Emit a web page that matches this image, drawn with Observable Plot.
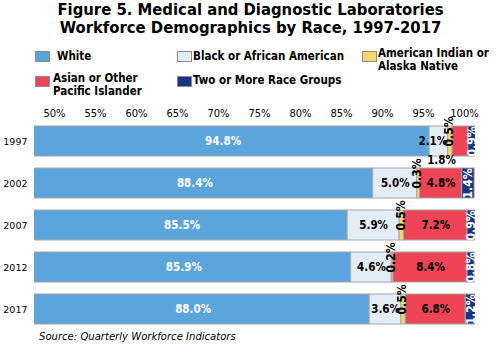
<!DOCTYPE html>
<html><head><meta charset="utf-8">
<script src="https://cdn.jsdelivr.net/npm/d3@7"></script>
<script src="https://cdn.jsdelivr.net/npm/@observablehq/plot@0.6"></script>
<style>
body{margin:0;background:#fff;}
#chart{position:relative;width:501px;height:346px;overflow:hidden;font-family:"DejaVu Sans Condensed","DejaVu Sans",Verdana,sans-serif;color:#000;}
#chart svg{position:absolute;left:0;top:0;}
.title{position:absolute;left:0;width:501px;text-align:center;font-weight:bold;font-size:16.5px;line-height:18px;top:1px;}
.lg{position:absolute;font-weight:bold;font-size:11.5px;line-height:13px;}
.sw{position:absolute;width:13px;height:9px;border:1px solid #8c8c8c;}
.src{position:absolute;left:39px;top:330px;font-style:italic;font-size:11.2px;line-height:13px;}
</style></head><body><div id="chart"></div>
<script>
const years = ["1997","2002","2007","2012","2017"];
const races = ["White","Black or African American","American Indian or Alaska Native","Asian or Other Pacific Islander","Two or More Race Groups"];
const white = [94.8,88.4,85.5,85.9,88.0];
const black = [2.1,5.0,5.9,4.6,3.6];
const amind = [0.5,0.3,0.5,0.2,0.5];
const asian = [1.8,4.8,7.2,8.4,6.8];
const multi = [0.9,1.4,0.9,0.8,1.2];
const colors = ["#5BA4DC","#E3EDF8","#F3D86C","#EF4356","#173580"];
const tickValues = [50,55,60,65,70,75,80,85,90,95,100];

const series = [white, black, amind, asian, multi];
const rows = [];
years.forEach((y, i) => {
  let acc = 0;
  series.forEach((s, k) => {
    const v = s[i];
    rows.push({year: y, race: races[k], k, value: v, x1: acc, x2: acc + v});
    acc += v;
  });
});
const lab = r => r.value.toFixed(1) + "%";
const font = '"DejaVu Sans Condensed","DejaVu Sans",Verdana,sans-serif';
const plainFont = '"DejaVu Sans",Verdana,sans-serif';

const chart = document.getElementById("chart");
const mid = r => (r.x1 + r.x2) / 2;

const main = Plot.plot({
  width: 501, height: 346,
  marginLeft: 34, marginRight: 26, marginTop: 120, marginBottom: 16,
  x: {domain: [50, 100], axis: null},
  y: {domain: years, paddingInner: 12/42, paddingOuter: 6/42, label: null},
  color: {domain: races, range: colors},
  style: {fontFamily: plainFont, fontSize: "9.5px", color: "#000", background: "transparent"},
  marks: [
    Plot.barX(rows, {x1: "x1", x2: "x2", y: "year", fill: "race", stroke: "#a6a6a6", strokeWidth: 1, clip: true}),
    Plot.axisY({tickSize: 0, tickPadding: 7, label: null, fontSize: 9.5}),
    // White labels
    Plot.text(rows.filter(r => r.k === 0), {x: r => (50 + r.x2) / 2, y: "year", text: lab, fill: "white", fontWeight: "bold", fontSize: 11.5, fontFamily: font, dx: -9}),
    // Black labels
    Plot.text(rows.filter(r => r.k === 1 && r.value >= 3), {x: mid, y: "year", text: lab, fill: "black", fontWeight: "bold", fontSize: 11.5, fontFamily: font}),
    Plot.text(rows.filter(r => r.k === 1 && r.value < 3), {x: "x2", y: "year", text: lab, fill: "black", fontWeight: "bold", fontSize: 11.5, fontFamily: font, textAnchor: "end", dx: -1}),
    // Asian labels (inside when wide, below when narrow)
    Plot.text(rows.filter(r => r.k === 3 && r.value >= 2), {x: mid, y: "year", text: lab, fill: "black", fontWeight: "bold", fontSize: 11.5, fontFamily: font}),
    Plot.text(rows.filter(r => r.k === 3 && r.value < 2), {x: mid, y: "year", text: lab, fill: "black", fontWeight: "bold", fontSize: 11.5, fontFamily: font, dy: 19, dx: -19}),
    // American Indian labels, rotated, near top
    Plot.text(rows.filter(r => r.k === 2), {x: mid, y: "year", text: lab, fill: "black", fontWeight: "bold", fontSize: 12, fontFamily: font, rotate: -90, dy: -10, dx: -1}),
    // Two or more labels, rotated white, clipped
    Plot.text(rows.filter(r => r.k === 4), {x: mid, y: "year", text: lab, fill: "white", fontWeight: "bold", fontSize: 12, fontFamily: font, rotate: -90, clip: true})
  ]
});
chart.appendChild(main);

const axis = Plot.plot({
  width: 501, height: 120,
  marginLeft: 54, marginRight: 37, marginTop: 113, marginBottom: 0,
  x: {domain: [50, 100]},
  style: {fontFamily: plainFont, fontSize: "10px", color: "#000", background: "transparent"},
  marks: [Plot.axisX(tickValues, {anchor: "top", tickSize: 0, tickPadding: 0, label: null, textAnchor: "middle", lineAnchor: "middle", tickFormat: d => d + "%"})]
});
chart.appendChild(axis);

const add = (cls, html, style) => {
  const d = document.createElement("div");
  d.className = cls; d.innerHTML = html; Object.assign(d.style, style || {});
  chart.appendChild(d); return d;
};
add("title", "Figure 5. Medical and Diagnostic Laboratories<br>Workforce Demographics by Race, 1997-2017");
const legend = [
  {i: 0, sx: 35, sy: 51, tx: 57, ty: 50, text: "White"},
  {i: 1, sx: 177, sy: 51, tx: 193, ty: 50, text: "Black or African American"},
  {i: 2, sx: 362, sy: 51, tx: 378, ty: 47, text: "American Indian or<br>Alaska Native"},
  {i: 3, sx: 35, sy: 76, tx: 53, ty: 72, text: "Asian or Other<br>Pacific Islander"},
  {i: 4, sx: 177, sy: 76, tx: 193, ty: 74, text: "Two or More Race Groups"}
];
legend.forEach(l => {
  add("sw", "", {left: l.sx + "px", top: l.sy + "px", background: colors[l.i]});
  add("lg", l.text, {left: l.tx + "px", top: l.ty + "px"});
});
add("src", "Source: Quarterly Workforce Indicators");
</script>
</body></html>
